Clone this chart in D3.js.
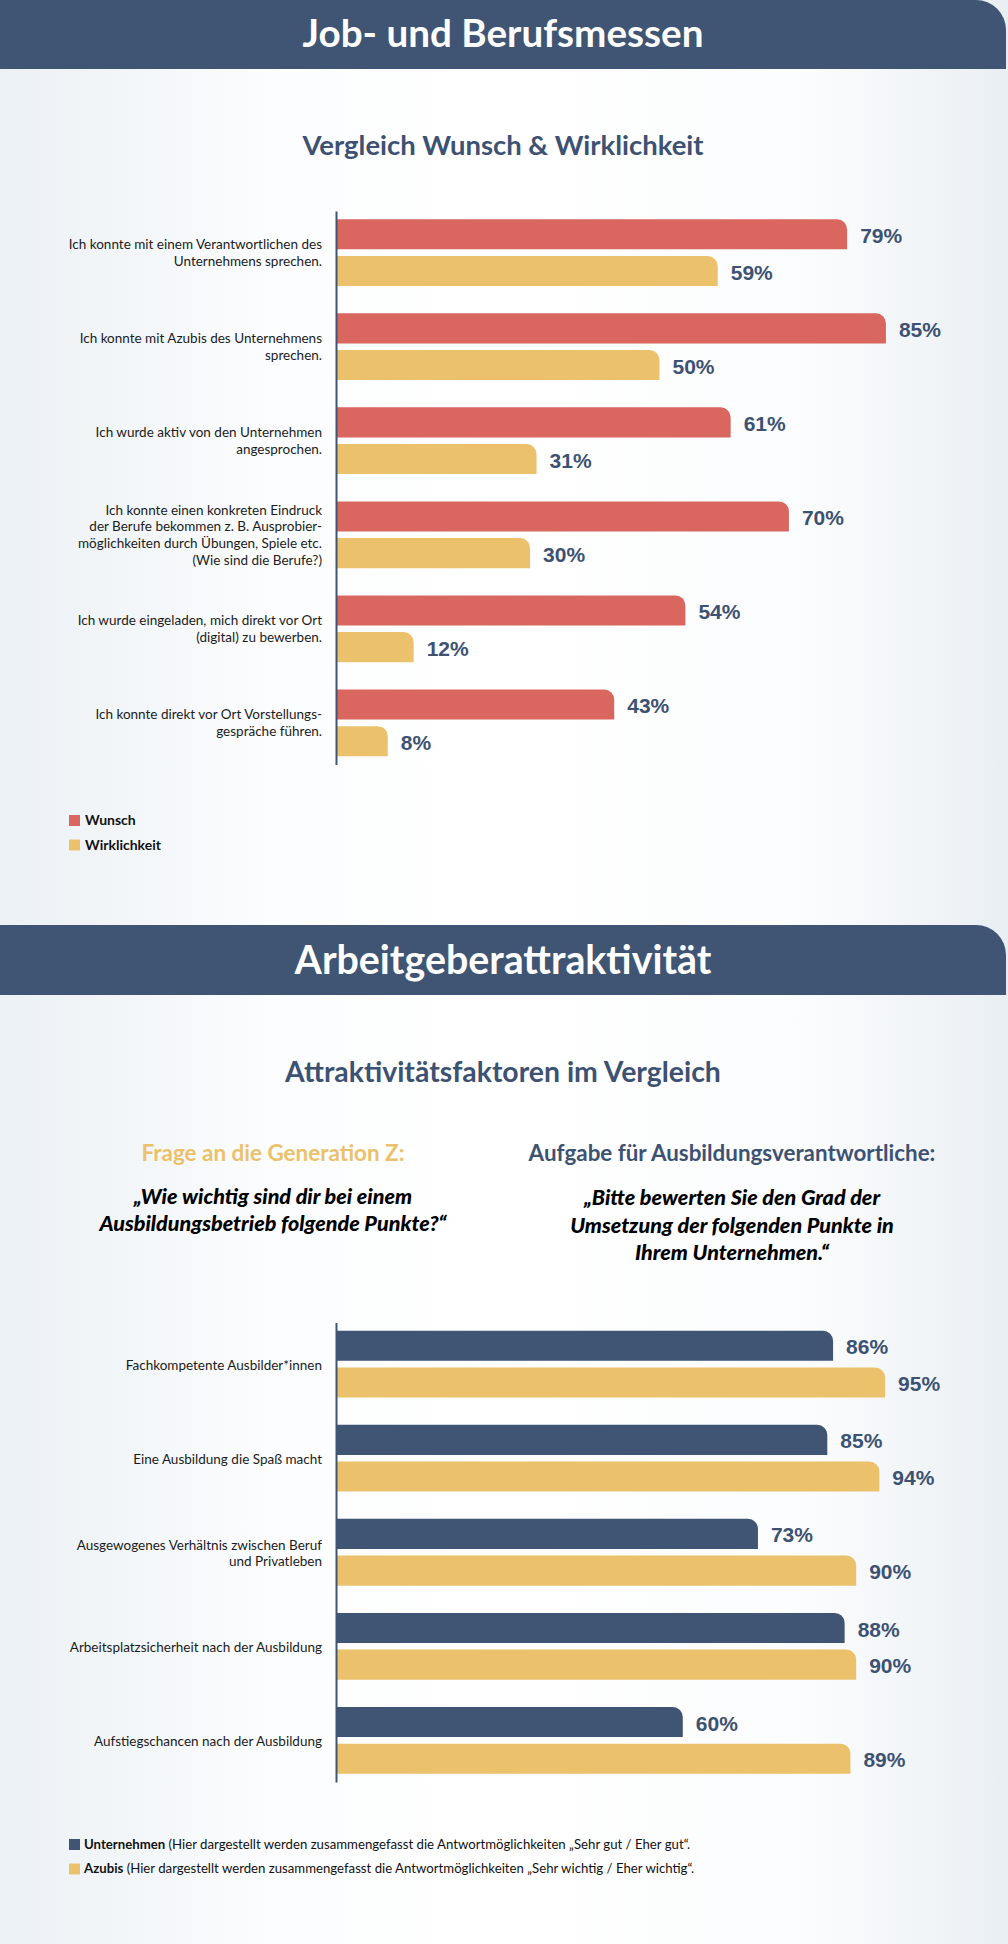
<!DOCTYPE html>
<html><head><meta charset="utf-8">
<script src="https://cdn.jsdelivr.net/npm/d3@7"></script>
<style>
html,body{margin:0;padding:0;background:#fff;}
svg{display:block;font-family:Lato,"Noto Sans",sans-serif;}
</style></head>
<body>
<svg id="c" width="1008" height="1944"></svg>
<script>
// ---------- DATA ----------
const categories1 = [
  ["Ich konnte mit einem Verantwortlichen des", "Unternehmens sprechen."],
  ["Ich konnte mit Azubis des Unternehmens", "sprechen."],
  ["Ich wurde aktiv von den Unternehmen", "angesprochen."],
  ["Ich konnte einen konkreten Eindruck", "der Berufe bekommen z. B. Ausprobier-", "möglichkeiten durch Übungen, Spiele etc.", "(Wie sind die Berufe?)"],
  ["Ich wurde eingeladen, mich direkt vor Ort", "(digital) zu bewerben."],
  ["Ich konnte direkt vor Ort Vorstellungs-", "gespräche führen."]
];
const wunsch = [79, 85, 61, 70, 54, 43];
const wirklichkeit = [59, 50, 31, 30, 12, 8];
const series1 = ["Wunsch", "Wirklichkeit"];

const categories2 = [
  ["Fachkompetente Ausbilder*innen"],
  ["Eine Ausbildung die Spaß macht"],
  ["Ausgewogenes Verhältnis zwischen Beruf", "und Privatleben"],
  ["Arbeitsplatzsicherheit nach der Ausbildung"],
  ["Aufstiegschancen nach der Ausbildung"]
];
const unternehmen = [86, 85, 73, 88, 60];
const azubis = [95, 94, 90, 90, 89];
const series2 = ["Unternehmen", "Azubis"];

const title1 = "Job- und Berufsmessen";
const subtitle1 = "Vergleich Wunsch & Wirklichkeit";
const title2 = "Arbeitgeberattraktivität";
const subtitle2 = "Attraktivitätsfaktoren im Vergleich";
const frageHead = "Frage an die Generation Z:";
const frageText = ["„Wie wichtig sind dir bei einem", "Ausbildungsbetrieb folgende Punkte?“"];
const aufgabeHead = "Aufgabe für Ausbildungsverantwortliche:";
const aufgabeText = ["„Bitte bewerten Sie den Grad der", "Umsetzung der folgenden Punkte in", "Ihrem Unternehmen.“"];
const legend2Notes = [" (Hier dargestellt werden zusammengefasst die Antwortmöglichkeiten „Sehr gut / Eher gut“.",
                      " (Hier dargestellt werden zusammengefasst die Antwortmöglichkeiten „Sehr wichtig / Eher wichtig“."];

// ---------- STYLE ----------
const NAVY = "#3f5573", RED = "#d9665f", YELLOW = "#ebc16b", TXT = "#3d5272";
const W = 1008, H = 1944;
const svg = d3.select("#c");

// background
const defs = svg.append("defs");
const g = defs.append("linearGradient").attr("id","bg").attr("x1",0).attr("x2",1).attr("y1",0).attr("y2",0);
[[0,"#ecf1f6"],[0.1,"#f1f5f8"],[0.28,"#fcfdfe"],[0.5,"#ffffff"],[0.8,"#fbfcfd"],[0.93,"#f0f4f7"],[1,"#e9eef3"]]
  .forEach(([o,c])=>g.append("stop").attr("offset",o).attr("stop-color",c));
svg.append("rect").attr("width",W).attr("height",H).attr("fill","url(#bg)");

function fitText(sel, target){
  sel.each(function(){
    const w = this.getComputedTextLength();
    const fs = parseFloat(d3.select(this).attr("font-size"));
    d3.select(this).attr("font-size", (fs*target/w).toFixed(2));
  });
}

function band(y0, y1, title, ty, tw){
  const r = 30, xr = 1006;
  svg.append("path").attr("fill", NAVY)
    .attr("d", `M0,${y0} H${xr-r} A${r},${r} 0 0 1 ${xr},${y0+r} V${y1} H0 Z`);
  const t = svg.append("text").attr("x", 503).attr("y", ty).attr("text-anchor","middle")
    .attr("fill","#fff").attr("font-weight",700).attr("font-size",38).text(title);
  fitText(t, tw);
}

function heading(txt, y, w, size, color){
  const t = svg.append("text").attr("x",503).attr("y",y).attr("text-anchor","middle")
    .attr("fill",color).attr("font-weight",700).attr("font-size",size).text(txt);
  fitText(t, w);
  return t;
}

function chart(cats, seriesNames, values, colors, x, yRange, labelShift){
  const ids = cats.map((d,i)=>i);
  const y = d3.scaleBand().domain(ids).range(yRange).paddingInner(0.29).paddingOuter(0.088);
  const sub = d3.scaleBand().domain(seriesNames).range([0, y.bandwidth()]).paddingInner(0.18);
  const root = svg.append("g");
  seriesNames.forEach((s, si)=>{
    root.append("g").selectAll("path").data(values[si]).join("path")
      .attr("fill", colors[si])
      .attr("d", (v,i)=>{
        const x0 = x(0)+1, x1 = x(v), yy = y(i)+sub(s), h = sub.bandwidth(), r = 10;
        return `M${x0},${yy} H${x1-r} A${r},${r} 0 0 1 ${x1},${yy+r} V${yy+h} H${x0} Z`;
      });
    root.append("g").selectAll("text").data(values[si]).join("text")
      .attr("x", v=>x(v)+13)
      .attr("y", (v,i)=>y(i)+sub(s)+sub.bandwidth()/2+1)
      .attr("dy","0.36em")
      .attr("fill", TXT)
      .style("font-family","'Liberation Sans',Arial,sans-serif")
      .attr("font-weight",700).attr("font-size",21)
      .text(v=>v+"%");
  });
  const ax = root.append("g").attr("transform",`translate(${x(0)},0)`)
    .call(d3.axisLeft(y).tickSize(0).tickSizeOuter(0).tickFormat(""));
  ax.select(".domain").attr("stroke", NAVY).attr("stroke-width",2);
  const LH = 16.8;
  const lab = root.append("g").selectAll("text").data(cats).join("text")
    .attr("text-anchor","end").attr("fill","#1b1b1b").attr("font-size",13.5)
    .attr("y",(d,i)=>y(i)+y.bandwidth()/2 + labelShift - (d.length-1)*LH/2);
  lab.selectAll("tspan").data(d=>d).join("tspan")
    .attr("x", x(0)-14).attr("dy",(d,j)=> j===0?0:LH).text(d=>d);
}

// ---------- SECTION 1 ----------
band(0, 69, title1, 47, 401);
heading(subtitle1, 155, 401, 30, TXT);
const x1 = d3.scaleLinear().domain([0,100]).range([336, 983]);
chart(categories1, series1, [wunsch, wirklichkeit], [RED, YELLOW], x1, [211, 764.5], 5);

const leg1 = svg.append("g");
series1.forEach((s,i)=>{
  leg1.append("rect").attr("x",69).attr("y",815+i*24.5).attr("width",11).attr("height",11).attr("fill",[RED,YELLOW][i]);
  leg1.append("text").attr("x",85).attr("y",825+i*24.5).attr("font-size",14).attr("font-weight",700).attr("fill","#111").text(s);
});

// ---------- SECTION 2 ----------
band(925, 995, title2, 974, 417);
heading(subtitle2, 1082, 436, 30, TXT);
const fh = svg.append("text").attr("x",273).attr("y",1161).attr("text-anchor","middle").attr("fill",YELLOW)
  .attr("font-weight",700).attr("font-size",22).text(frageHead);
fitText(fh, 263);
const ah = svg.append("text").attr("x",732).attr("y",1161).attr("text-anchor","middle").attr("fill",TXT)
  .attr("font-weight",700).attr("font-size",22).text(aufgabeHead);
fitText(ah, 407);
svg.append("g").selectAll("text").data(frageText).join("text")
  .attr("x",273).attr("y",(d,i)=>1203.5+i*27.7).attr("text-anchor","middle")
  .attr("font-weight",900).attr("font-style","italic").attr("font-size",21.5).attr("fill","#000").text(d=>d);
svg.append("g").selectAll("text").data(aufgabeText).join("text")
  .attr("x",732).attr("y",(d,i)=>1205+i*27.6).attr("text-anchor","middle")
  .attr("font-weight",900).attr("font-style","italic").attr("font-size",21.5).attr("fill","#000").text(d=>d);

const x2 = d3.scaleLinear().domain([0,100]).range([336, 914]);
chart(categories2, series2, [unternehmen, azubis], [NAVY, YELLOW], x2, [1322.5, 1782], 5.7);

const leg2 = svg.append("g");
series2.forEach((s,i)=>{
  leg2.append("rect").attr("x",69).attr("y",1839+i*24.5).attr("width",11).attr("height",11).attr("fill",[NAVY,YELLOW][i]);
  const t = leg2.append("text").attr("x",84).attr("y",1848.5+i*24.5).attr("font-size",13.2).attr("fill","#111");
  t.append("tspan").attr("font-weight",700).text(s);
  t.append("tspan").text(legend2Notes[i]);
});
</script>
</body></html>
